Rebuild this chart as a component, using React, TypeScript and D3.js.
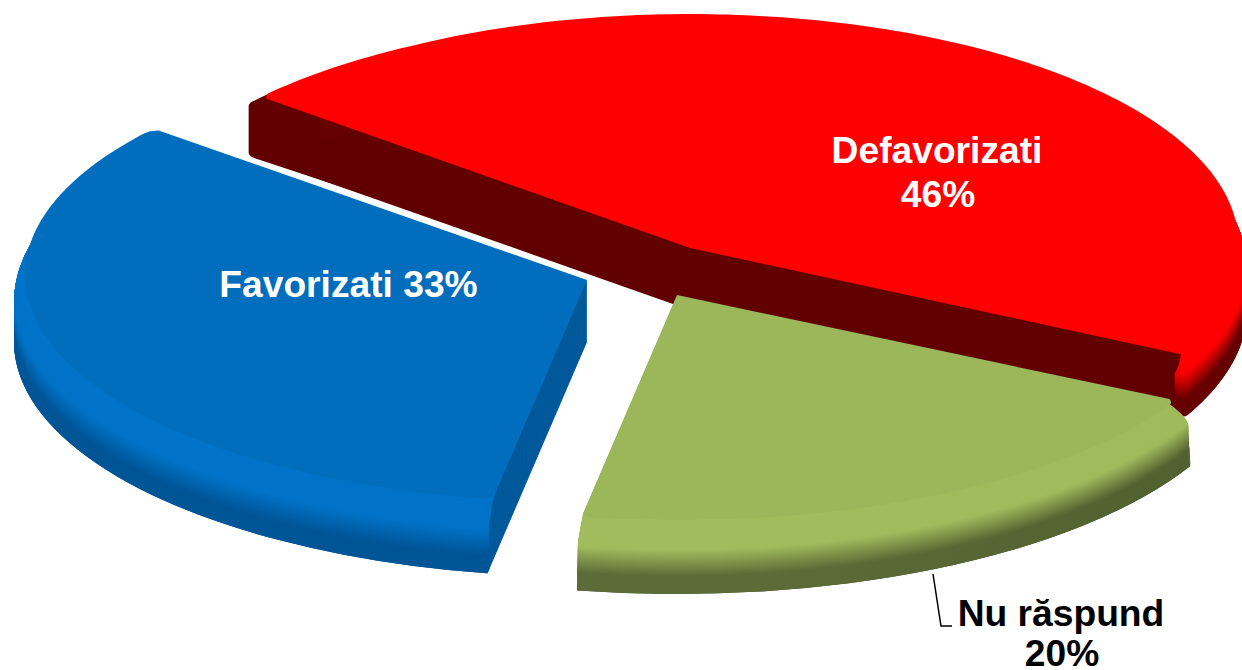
import React from "react";
import * as d3 from "d3";

// ---- data ----
const names = ["Defavorizati", "Nu răspund", "Favorizati"];
const values = [46, 20, 33];

// ---- look ----
const flatColors = ["#ff0000", "#9bb75a", "#006ebd"];
const lightLeft = ["#ff0000", "#a0bc5c", "#0073c8"];
const lightRight = ["#ff0000", "#9bb75a", "#0078d4"];
const darkLeft = ["#660000", "#5c6b37", "#005596"];
const darkRight = ["#660000", "#404d24", "#004a85"];
const wallColors = ["#620000", "#404d24", "#005a9c"];
const centersX = [690, 677, 587];
const centersY = [248, 295, 280];
const radii = [557, 578, 573];
const innerRadii = [533, 548, 542];
const ks = [0.42, 0.41, 0.41];
const startBoost = [6, 0, 0];
const endBoost = [14, 0, 0];
const DEPTH = 62;
const BEVEL = 22;
const DEG = Math.PI / 180;
const START = -50 * DEG;
const endAdjust = [0, 0, 0.4 * DEG];
const ringTrimStart = [8 * DEG, 0, 0];
const ringTrimEnd = [6 * DEG, 0, 0];
const cornerTop = [14, 12, 10];
const cornerBottom = [14, 1, 1];

const pieGen = d3
  .pie<number>()
  .sort(null)
  .startAngle(START)
  .endAngle(START + 2 * Math.PI);
const arcs = pieGen(values);

const arcGen = d3.arc<any>().cornerRadius((d: any) => d.cornerRadius);
const radialGen = d3
  .lineRadial<{ a: number; r: number }>()
  .angle((p) => p.a)
  .radius((p) => p.r);

function radiusAt(i: number, d: number) {
  const t = Math.min(d / BEVEL, 1);
  return innerRadii[i] + (radii[i] - innerRadii[i]) * Math.sin((t * Math.PI) / 2);
}

function ramp(t: number, a: string, b: string) {
  if (t < 0.3) return a;
  if (t > 0.72) return b;
  return d3.interpolateRgb(a, b)((t - 0.3) / 0.42);
}

const depths = d3.range(DEPTH, 0, -1);

function topFacePath(i: number, a0: number, a1: number) {
  const n = 180;
  const span = 20 * DEG;
  const pts = d3.range(n + 1).map((j) => {
    const a = a0 + ((a1 - a0) * j) / n;
    const edge = Math.min(a - a0, a1 - a) / (1.2 * DEG);
    const taper = edge < 1 ? 1 - 0.012 * (1 - edge) * (1 - edge) : 1;
    const u = Math.pow((1 + Math.cos(a)) / 2, 0.65);
    const boost =
      startBoost[i] * Math.max(0, 1 - (a - a0) / span) +
      endBoost[i] * Math.max(0, 1 - (a1 - a) / span);
    return { a, r: (innerRadii[i] + (radii[i] - innerRadii[i]) * u + boost) * taper };
  });
  return radialGen([{ a: a0, r: 0 }, ...pts])! + "Z";
}

function Slice({ i }: { i: number }) {
  const a = arcs[i];
  const a0 = a.startAngle;
  const a1 = a.endAngle + endAdjust[i];
  const tf = (d: number) => `translate(${centersX[i]},${centersY[i] + d}) scale(1,${ks[i]})`;
  const cr = (d: number) => cornerTop[i] + ((cornerBottom[i] - cornerTop[i]) * d) / DEPTH;
  return (
    <g>
      <defs>
        {depths.map((d) => (
          <linearGradient
            key={d}
            id={`rim-${i}-${d}`}
            gradientUnits="userSpaceOnUse"
            x1={centersX[i] - radii[i]}
            x2={centersX[i] + radii[i]}
            y1={0}
            y2={0}
          >
            <stop offset="0" stopColor={ramp(d / DEPTH, lightLeft[i], darkLeft[i])} />
            <stop offset="1" stopColor={ramp(d / DEPTH, lightRight[i], darkRight[i])} />
          </linearGradient>
        ))}
      </defs>
      {depths.map((d) => (
        <path
          key={`w${d}`}
          transform={tf(d)}
          fill={wallColors[i]}
          d={
            arcGen({
              innerRadius: 0,
              outerRadius: radiusAt(i, d),
              startAngle: a0,
              endAngle: a1,
              cornerRadius: cr(d),
            } as any)!
          }
        />
      ))}
      {i === 0 &&
        d3.range(DEPTH - 8, 6, -1).map((d) => (
          <path
            key={`b${d}`}
            transform={tf(d)}
            fill={wallColors[i]}
            d={
              arcGen({
                innerRadius: 0,
                outerRadius: 570,
                startAngle: a0 - 1.8 * DEG,
                endAngle: a0 + 4 * DEG,
                cornerRadius: 16,
              } as any)!
            }
          />
        ))}
      {depths.map((d) => (
        <path
          key={`r${d}`}
          transform={tf(d)}
          fill={`url(#rim-${i}-${d})`}
          d={
            arcGen({
              innerRadius: radiusAt(i, d) - 14,
              outerRadius: radiusAt(i, d),
              startAngle: a0 + ringTrimStart[i],
              endAngle: a1 - ringTrimEnd[i] * Math.max(0, 1 - d / BEVEL),
              cornerRadius: Math.min(cr(d), 6),
            } as any)!
          }
        />
      ))}
      <path transform={tf(0)} fill={flatColors[i]} d={topFacePath(i, a0, a1)} />
    </g>
  );
}

const labelFont = {
  fontFamily: "'Liberation Sans', Arial, sans-serif",
  fontWeight: 700,
  fontSize: 37.2,
};
const pct = (v: number) => `${v}%`;

export default function App() {
  return (
    <svg
      width={1242}
      height={670}
      viewBox="0 0 1242 670"
      style={{ position: "absolute", left: 0, top: 0, display: "block", background: "#fff" }}
    >
      <Slice i={0} />
      <Slice i={1} />
      <Slice i={2} />
      <g {...labelFont} textAnchor="middle">
        <text x={937} y={163} fill="#fff">{names[0]}</text>
        <text x={938} y={207} fill="#fff">{pct(values[0])}</text>
        <text x={348.5} y={297} fill="#fff">{`${names[2]} ${pct(values[2])}`}</text>
        <text x={1061} y={626} fill="#000">{names[1]}</text>
        <text x={1062} y={666} fill="#000">{pct(values[1])}</text>
      </g>
      <polyline points="933,574 941,626 952,626" fill="none" stroke="#000" strokeWidth={1.5} />
    </svg>
  );
}
